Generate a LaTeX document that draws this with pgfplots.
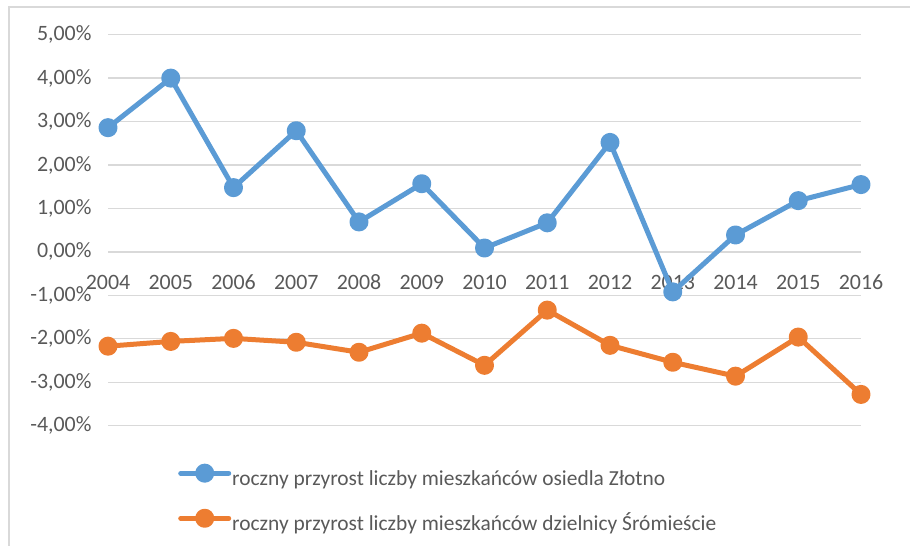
\documentclass[border=0pt]{standalone}
\usepackage{pgfplots}
\pgfplotsset{compat=1.18}
\usepackage{fontspec}
\setmainfont{Carlito}
\definecolor{cblue}{HTML}{5B9BD5}
\definecolor{corange}{HTML}{ED7D31}
\definecolor{ctext}{HTML}{595959}
\definecolor{cgrid}{HTML}{D9D9D9}
\begin{document}
\begin{tikzpicture}[x=1bp,y=1bp]
\useasboundingbox (0,0) rectangle (910,546);
\draw[cgrid, line width=1.5bp] (9,-5) -- (9,539) -- (915,539);
\begin{axis}[
  at={(108bp,120.3bp)}, anchor=south west,
  scale only axis, width=753bp, height=391bp,
  xmin=2004, xmax=2016, ymin=-4, ymax=5,
  xtick={2004,2005,2006,2007,2008,2009,2010,2011,2012,2013,2014,2015,2016},
  xticklabels={2004,2005,2006,2007,2008,2009,2010,2011,2012,2013,2014,2015,2016},
  ytick={-4,-3,-2,-1,0,1,2,3,4,5},
  axis line style={draw=none},
  major tick length=0pt,
  ymajorgrids, grid style={cgrid, line width=1.3bp},
  clip=false,
  /pgf/number format/assume math mode=true,
  tick label style={text=ctext, font=\fontsize{22}{26}\selectfont},
  yticklabel={\pgfmathprintnumber[fixed,fixed zerofill,precision=2,use comma]{\tick}\%},
  yticklabel style={anchor=east, xshift=-13bp},
  xticklabel style={anchor=center, yshift=143.7bp},
  legend cell align=left,
  legend style={at={(0.0930,-0.103)}, anchor=north west, draw=none, fill=none,
    inner sep=0pt, row sep=20.6bp, text=ctext,
    font=\fontsize{21.5}{26}\selectfont,
    nodes={inner sep=0pt, text height=16bp, text depth=5bp},
    /tikz/every odd column/.append style={column sep=1bp}},
  legend image code/.code={\draw[mark repeat=2,mark phase=2,#1] plot coordinates {(0bp,7bp) (24bp,7bp) (48bp,7bp)};},
  every axis plot/.append style={line width=5bp, line join=round, line cap=round, mark=*, mark size=7bp},
]
\addplot[cblue, mark options={solid, draw=none, fill=cblue}]
  coordinates {(2004,2.86) (2005,4.0) (2006,1.48) (2007,2.79) (2008,0.69) (2009,1.57) (2010,0.09) (2011,0.67) (2012,2.52) (2013,-0.92) (2014,0.39) (2015,1.18) (2016,1.55)};
\addlegendentry{roczny przyrost liczby mieszkańców osiedla Złotno}
\addplot[corange, mark options={solid, draw=none, fill=corange}]
  coordinates {(2004,-2.17) (2005,-2.06) (2006,-1.99) (2007,-2.08) (2008,-2.31) (2009,-1.87) (2010,-2.61) (2011,-1.34) (2012,-2.15) (2013,-2.54) (2014,-2.86) (2015,-1.96) (2016,-3.28)};
\addlegendentry{roczny przyrost liczby mieszkańców dzielnicy Śrómieście}
\end{axis}
\end{tikzpicture}
\end{document}
